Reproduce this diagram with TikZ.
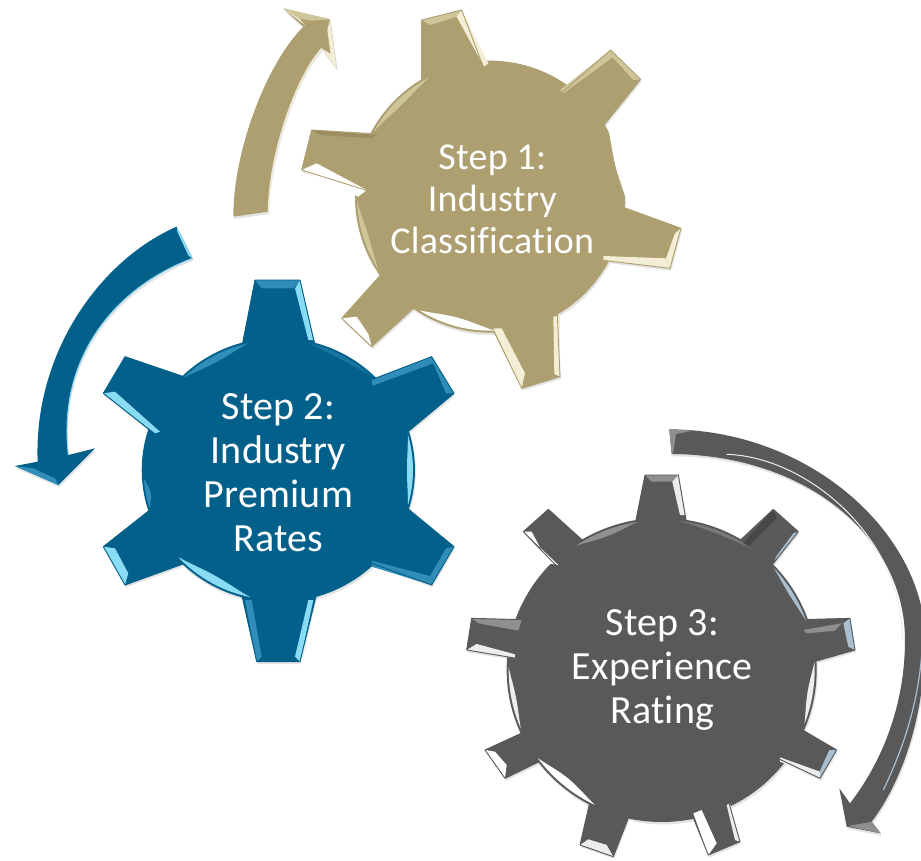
\documentclass[tikz,border=0pt]{standalone}
\usepackage{fontspec}
\setmainfont[Ligatures=NoCommon,LetterSpace=0.6]{Carlito}
\definecolor{gold}{HTML}{AD9F6F}
\definecolor{goldhi}{HTML}{F4EED6}
\definecolor{goldmid}{HTML}{CFC59B}
\definecolor{goldlo}{HTML}{9C8E60}
\definecolor{blu}{HTML}{02608B}
\definecolor{bluhi}{HTML}{8ADCF5}
\definecolor{blumid}{HTML}{2F8DB8}
\definecolor{blulo}{HTML}{014F74}
\definecolor{gry}{HTML}{595959}
\definecolor{gryhi}{HTML}{EDEDED}
\definecolor{grymid}{HTML}{8F8F8F}
\definecolor{grylo}{HTML}{474747}
\definecolor{gryblue}{HTML}{A9BFD0}
\tikzset{
  zoomed/.style={x=0.33333pt,y=-0.33333pt},
  shadowed/.style={fill=black!11},
  rim/.style={draw=#1,line width=.9pt,line join=round},
  steptext/.style 2 args={text=white,align=center,font=\fontsize{#1}{#2}\selectfont,inner sep=0pt},
}
% crescent: cx cy rx ry a b width colour
\newcommand{\crescent}[8]{%
  \fill[#8] plot[domain=#5:#6,samples=22,smooth] ({#1+#3*cos(\x)},{#2+#4*sin(\x)})
    -- plot[domain=#6:#5,samples=22,smooth] ({#1+(#3-#7*sin(180*(\x-#5)/(#6-#5)))*cos(\x)},{#2+(#4-#7*sin(180*(\x-#5)/(#6-#5)))*sin(\x)}) -- cycle;%
}
\newcommand{\facet}[2]{\fill[#1] #2 -- cycle;}
\begin{document}
\begin{tikzpicture}
\useasboundingbox (0,0) rectangle (921pt,-860pt);
\fill[white] (0,0) rectangle (921pt,-860pt);

%% ---------- GOLD ----------
\begin{scope}[zoomed,shift={(660,0)}]
\newcommand{\goldteeth}{
 (605,300)--(605,60)--(725,30)--(805,240)--cycle
 (1000,300)--(1172,150)--(1262,238)--(1100,440)--cycle
 (1150,600)--(1383,685)--(1350,805)--(1100,775)--cycle
 (1010,900)--(1020,1130)--(905,1165)--(800,950)--cycle
 (540,760)--(365,955)--(455,1040)--(640,870)--cycle
 (500,590)--(245,510)--(275,390)--(520,405)--cycle}
\newcommand{\goldbody}{(810,590) ellipse [x radius=135pt,y radius=136pt]}
\newcommand{\goldarrow}{
 (40,650) .. controls (40,450) and (140,190) .. (250,80) -- (190,25) -- (330,58) -- (350,205) -- (305,145)
 .. controls (220,240) and (145,480) .. (145,635) -- cycle}
\begin{scope}[shift={(3,7)}]
 \fill[shadowed] \goldteeth; \fill[shadowed] \goldbody; \fill[shadowed] \goldarrow;
\end{scope}
\fill[gold] \goldteeth; \fill[gold] \goldbody;
\fill[gold] \goldarrow;
% arrow bevel
\draw[goldhi,line width=1pt] (305,145) .. controls (220,240) and (145,480) .. (145,635);
\facet{goldmid}{(190,25)--(330,58)--(275,62)--(235,55)}
\facet{goldhi}{(190,25)--(255,75)--(240,58)}
\facet{goldhi}{(330,58)--(350,205)--(305,145)--(332,162)--(322,90)}
% teeth bevels
\facet{goldmid}{(605,60)--(725,30)--(710,50)--(630,75)}
\facet{goldhi}{(725,30)--(805,190)--(792,200)--(710,50)}
\facet{goldmid}{(1020,270)--(1172,150)--(1178,172)--(1030,280)}
\facet{goldmid}{(1172,150)--(1262,238)--(1240,240)--(1178,172)}
\facet{goldhi}{(1383,685)--(1350,805)--(1338,775)--(1365,700)}
\facet{goldhi}{(1150,768)--(1338,775)--(1350,805)--(1150,782)}
\facet{goldhi}{(1020,945)--(1020,1130)--(1003,1122)--(1000,950)}
\facet{goldhi}{(820,985)--(905,1165)--(915,1120)--(845,985)}
\facet{white}{(365,955)--(455,1040)--(445,1002)--(410,950)}
\facet{white}{(245,510)--(290,490)--(440,570)--(415,590)}
\facet{goldlo}{(275,390)--(470,405)--(455,415)--(300,405)}
\path[rim=gold] \goldteeth;
% arc bevels
\crescent{810}{590}{399}{402}{209}{243}{18}{goldmid}
\crescent{810}{590}{410}{402}{-30}{2}{22}{white}
\crescent{810}{590}{399}{402}{88}{122}{26}{white}
\crescent{810}{590}{399}{402}{147}{178}{16}{goldmid}
\node[steptext={38}{42}] (gearone) at (817,598) {Step 1:\\Industry\\Classification};
\end{scope}

%% ---------- BLUE ----------
\begin{scope}[zoomed,shift={(0,660)}]
\newcommand{\blueteeth}{
 (720,410)--(765,180)--(900,180)--(955,420)--cycle
 (1060,500)--(1295,410)--(1362,520)--(1170,680)--cycle
 (1180,830)--(1362,980)--(1295,1095)--(1060,1010)--cycle
 (955,1100)--(900,1325)--(770,1325)--(720,1100)--cycle
 (610,1010)--(375,1095)--(310,980)--(500,830)--cycle
 (500,670)--(310,520)--(375,410)--(610,490)--cycle}
\newcommand{\bluebody}{(835,750) ellipse [x radius=136.6pt,y radius=132pt]}
\newcommand{\bluearrow}{
 (530,20) .. controls (300,120) and (100,400) .. (113,725) -- (45,738) -- (175,795) -- (285,685) -- (205,705)
 .. controls (170,400) and (360,195) .. (578,115) -- cycle}
\begin{scope}[shift={(3,7)}]
 \fill[shadowed] \blueteeth; \fill[shadowed] \bluebody; \fill[shadowed] \bluearrow;
\end{scope}
\fill[blu] \blueteeth; \fill[blu] \bluebody;
\fill[blu] \bluearrow;
\draw[bluhi,line width=.9pt] (205,705) .. controls (170,400) and (360,195) .. (578,115);
\facet{bluhi}{(530,20)--(578,115)--(566,108)--(532,35)}
\facet{blumid}{(45,738)--(175,795)--(165,775)--(100,745)}
% teeth
\facet{blumid}{(765,180)--(900,180)--(880,205)--(785,205)}
\facet{bluhi}{(900,180)--(940,360)--(925,360)--(885,205)}
\facet{blumid}{(1115,480)--(1295,410)--(1300,430)--(1118,497)}
\facet{blumid}{(1295,410)--(1362,520)--(1338,520)--(1300,430)}
\facet{blumid}{(1362,980)--(1295,1095)--(1290,1068)--(1338,985)}
\facet{blumid}{(1115,1022)--(1290,1068)--(1295,1095)--(1115,1040)}
\facet{bluhi}{(940,1140)--(900,1325)--(885,1310)--(925,1140)}
\facet{blumid}{(735,1140)--(770,1325)--(785,1310)--(755,1140)}
\facet{bluhi}{(310,980)--(375,1095)--(385,1060)--(345,985)}
\facet{bluhi}{(310,520)--(345,515)--(480,635)--(465,640)}
\path[rim=blu] \blueteeth;
% arcs
\crescent{835}{750}{404}{390}{225}{257}{20}{blumid}
\crescent{835}{750}{404}{390}{283}{314}{12}{blumid!50!blu}
\crescent{835}{750}{404}{390}{-16}{16}{18}{bluhi}
\crescent{835}{750}{404}{390}{102}{138}{24}{bluhi}
\crescent{835}{750}{404}{390}{163}{176}{14}{blumid}
\node[steptext={40}{44}] (geartwo) at (835,757) {Step 2:\\Industry\\Premium\\Rates};
\end{scope}

%% ---------- GREY ----------
\begin{scope}[zoomed,shift={(1380,1260)}]
\newcommand{\greyteeth}{
 (520,340)--(555,165)--(655,165)--(685,340)--cycle
 (820,380)--(940,268)--(1015,335)--(900,480)--cycle
 (980,600)--(1170,595)--(1185,690)--(1010,740)--cycle
 (960,890)--(1130,990)--(1080,1075)--(900,990)--cycle
 (790,1090)--(840,1265)--(745,1305)--(670,1120)--cycle
 (530,1130)--(460,1310)--(360,1275)--(400,1100)--cycle
 (270,900)--(75,990)--(135,1075)--(310,990)--cycle
 (230,725)--(20,690)--(35,595)--(230,600)--cycle
 (340,490)--(190,335)--(265,268)--(400,390)--cycle}
\newcommand{\greybody}{(605,750) ellipse [x radius=155pt,y radius=152pt]}
\newcommand{\greyarrow}{
 (628,28) .. controls (1060,30) and (1395,350) .. (1395,660)
 .. controls (1395,880) and (1330,1080) .. (1235,1205) -- (1262,1240) -- (1160,1220) -- (1138,1105) -- (1170,1150)
 .. controls (1270,1020) and (1335,850) .. (1335,660)
 .. controls (1335,350) and (1040,105) .. (635,102) -- cycle}
\begin{scope}[shift={(3,7)}]
 \fill[shadowed] \greyteeth; \fill[shadowed] \greybody; \fill[shadowed] \greyarrow;
\end{scope}
\fill[gry] \greyteeth; \fill[gry] \greybody;
\fill[gry] \greyarrow;
\draw[gryhi,line width=1pt] (1328,660) .. controls (1328,350) and (1040,110) .. (800,103);
\draw[gryblue,line width=1.2pt] (1385,480) .. controls (1400,700) and (1380,880) .. (1270,1110);
\facet{grymid}{(1235,1205)--(1262,1240)--(1165,1218)}
\facet{grymid}{(628,28)--(700,32)--(648,42)--(640,95)--(635,102)}
% teeth
\facet{grymid}{(555,165)--(655,165)--(637,185)--(575,185)}
\facet{gryhi}{(655,165)--(675,285)--(660,285)--(637,185)}
\facet{grylo}{(850,370)--(940,268)--(950,295)--(860,385)}
\facet{gryblue}{(1015,335)--(940,435)--(948,410)--(1000,340)}
\facet{grymid}{(1030,630)--(1145,610)--(1125,632)--(1040,640)}
\facet{gryblue}{(1170,595)--(1185,690)--(1165,680)--(1150,610)}
\facet{gryhi}{(960,1012)--(1080,1055)--(1080,1075)--(960,1025)}
\facet{gryblue}{(1130,990)--(1080,1075)--(1080,1052)--(1108,990)}
\facet{white}{(700,1180)--(745,1305)--(770,1270)--(725,1170)}
\facet{gryhi}{(810,1150)--(840,1265)--(825,1260)--(800,1155)}
\facet{gryhi}{(360,1275)--(460,1310)--(440,1275)--(385,1258)}
\facet{white}{(75,990)--(135,1075)--(140,1035)--(105,995)}
\facet{grymid}{(35,595)--(185,600)--(175,632)--(55,610)}
\facet{gryhi}{(20,690)--(165,715)--(165,703)--(50,672)}
\facet{white}{(190,335)--(295,435)--(265,430)--(215,335)}
\path[rim=gry] \greyteeth;
% arcs
\crescent{605}{750}{459}{450}{236}{261}{18}{grymid}
\crescent{605}{750}{459}{450}{-84}{-53}{10}{grymid!60!gry}
\crescent{605}{750}{459}{450}{-43}{-19}{12}{gryblue}
\crescent{605}{750}{459}{450}{-3}{21}{16}{gryhi}
\crescent{605}{750}{459}{450}{116}{144}{24}{white}
\crescent{605}{750}{459}{450}{157}{181}{14}{gryhi}
\node[steptext={40}{44}] (gearthree) at (607,750) {Step 3:\\Experience\\Rating};
\end{scope}
\end{tikzpicture}
\end{document}
